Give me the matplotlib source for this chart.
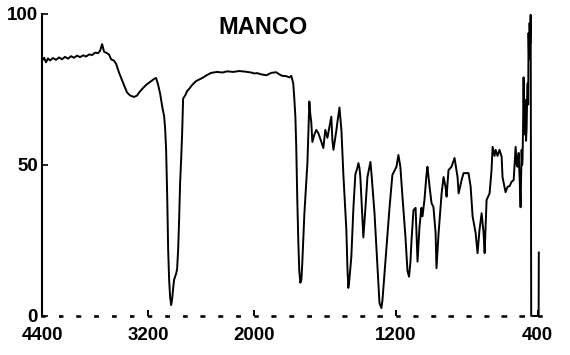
import numpy as np
import matplotlib
matplotlib.use("Agg")
import matplotlib.pyplot as plt

# IR spectrum, MANCO: wavenumber (cm-1) and transmittance (%)
wavenumber = [
    4400, 4377, 4355, 4332, 4310, 4276, 4242, 4208, 4174, 4140, 4106, 4072,
    4038, 4004, 3970, 3936, 3902, 3868, 3834, 3800, 3767, 3744, 3721, 3699,
    3665, 3642, 3620, 3586, 3563, 3529, 3495, 3461, 3439, 3405, 3360, 3326,
    3303, 3258, 3224, 3179, 3133, 3111, 3088, 3065, 3043, 3020, 3009, 2998,
    2986, 2975, 2964, 2953, 2941, 2930, 2919, 2908, 2885, 2874, 2862, 2851,
    2840, 2828, 2817, 2806, 2783, 2760, 2738, 2704, 2658, 2590, 2534, 2489,
    2421, 2364, 2308, 2240, 2172, 2104, 2036, 2002,
    1984, 1962, 1933, 1905, 1877, 1860, 1843, 1820, 1803, 1792, 1781, 1775,
    1769, 1764, 1758, 1752, 1747, 1741, 1735, 1730, 1718, 1701, 1690, 1685,
    1679, 1673, 1662, 1651, 1639, 1622, 1611, 1600, 1588, 1577, 1566, 1560,
    1554, 1537, 1532, 1520, 1509, 1498, 1487, 1481, 1475, 1470, 1464, 1453,
    1441, 1430, 1419, 1413, 1407, 1402, 1390, 1385, 1373, 1362, 1345, 1339,
    1322, 1305, 1294, 1283, 1277, 1266, 1254, 1237, 1221, 1198, 1187, 1176,
    1164, 1147, 1136, 1127, 1119, 1113, 1102, 1090, 1085, 1079, 1068, 1057,
    1051, 1040, 1028, 1023, 1011, 1000, 989, 977, 972, 960, 949, 943,
    932, 921, 915, 904, 887, 870, 853, 847, 830, 819, 791, 779,
    768, 751, 740, 729, 717, 706, 700, 689, 672, 661, 655, 644,
    638, 627, 616, 604, 599, 582, 570, 559, 548, 536, 531, 525,
    519, 514, 508, 502, 497, 491, 488, 486, 483, 480, 477, 474,
    471, 469, 466, 463, 460, 457, 454, 452, 449, 446, 443, 440,
    437, 395, 394,
]
transmittance = [
    84.5, 85.5, 84.0, 85.3, 84.6, 85.4, 84.8, 85.6, 85.0, 85.8, 85.2, 86.0,
    85.5, 86.2, 85.7, 86.3, 85.9, 86.6, 86.4, 87.2, 87.0, 87.8, 90.0, 87.5,
    87.0, 86.5, 85.0, 84.5, 83.5, 80.5, 78.0, 75.5, 74.0, 73.0, 72.5, 73.0,
    74.0, 75.5, 76.5, 77.5, 78.5, 78.8, 76.5, 73.5, 69.5, 66.0, 62.0, 55.0,
    40.0, 22.0, 12.0, 6.3, 3.6, 5.5, 9.0, 12.0, 14.0, 15.5, 22.0, 32.0,
    44.0, 52.0, 60.5, 72.0, 73.0, 74.5, 75.2, 76.5, 77.8, 78.8, 79.8, 80.5,
    80.8, 80.6, 81.0, 80.8, 81.1, 80.9, 80.6, 80.3,
    80.4, 80.0, 79.7, 80.5, 80.7, 80.0, 79.5, 79.4, 79.0, 79.5, 77.0, 72.0,
    66.0, 56.0, 38.0, 24.0, 15.0, 11.0, 12.0, 17.5, 34.0, 50.6, 71.0, 67.0,
    64.0, 57.6, 60.0, 61.6, 60.5, 57.6, 55.6, 61.6, 59.0, 62.6, 66.0, 58.3,
    55.0, 61.6, 64.0, 69.0, 61.6, 47.0, 35.0, 28.5, 16.0, 9.3, 12.0, 19.5,
    36.0, 47.0, 49.0, 50.6, 49.0, 46.0, 31.8, 26.0, 36.0, 46.0, 51.0, 47.0,
    34.0, 16.0, 4.3, 2.6, 5.3, 14.0, 23.0, 36.0, 46.7, 49.4, 53.3, 49.4,
    39.4, 26.0, 15.0, 13.0, 18.0, 25.0, 35.0, 35.8, 27.5, 18.0, 29.5, 35.8,
    33.0, 38.4, 47.0, 49.4, 42.8, 37.4, 36.0, 27.5, 15.8, 27.5, 36.0, 40.6,
    46.0, 42.8, 39.5, 48.3, 49.4, 52.3, 46.0, 40.6, 45.0, 47.3, 47.3, 42.8,
    33.0, 27.5, 20.8, 28.5, 34.0, 27.5, 20.8, 38.4, 40.6, 48.3, 56.0, 53.0,
    55.0, 53.0, 55.0, 52.7, 46.0, 41.0, 42.8, 43.0, 44.4, 45.0, 50.0, 56.0,
    50.0, 49.4, 54.0, 45.0, 36.0, 55.0, 50.0, 52.0, 62.0, 79.0, 64.0, 68.0,
    60.0, 71.5, 58.0, 62.0, 72.0, 77.0, 70.0, 93.7, 85.0, 97.0, 90.0, 99.7,
    0.0, 0.0, 21.0,
]

major_ticks = [4400, 3200, 2000, 1200, 400]
minor_ticks = list(range(4200, 2000, -200)) + list(range(1900, 400, -100))
y_ticks = [0, 50, 100]


# 2x expansion below 2000 cm-1
def fwd(w):
    w = np.asarray(w, dtype=float)
    return np.where(w >= 2000, w, 2 * w - 2000)


def inv(v):
    v = np.asarray(v, dtype=float)
    return np.where(v >= 2000, v, (v + 2000) / 2)


plt.rcParams['font.family'] = ['Liberation Sans', 'DejaVu Sans']

fig = plt.figure(figsize=(5.7, 3.55), dpi=100)
ax = fig.add_axes([0.0737, 0.110, 0.875, 0.8507])
ax.set_xscale('function', functions=(fwd, inv))

ax.plot(wavenumber, transmittance, color='black', lw=1.4, clip_on=False,
        zorder=3)

ax.set_xlim(4400, 383)
ax.set_ylim(0, 100)

ax.set_xticks(major_ticks)
ax.set_xticks(minor_ticks, minor=True)
ax.set_yticks(y_ticks)

for s in ['top', 'right']:
    ax.spines[s].set_visible(False)
ax.spines['left'].set_linewidth(1.5)
# dotted baseline like the scanned chart
ax.spines['bottom'].set_linewidth(1.8)
ax.spines['bottom'].set_linestyle((0, (0.8, 6.3)))

ax.tick_params(axis='x', which='major', direction='in', length=4.5, width=1.4,
               pad=8, labelsize=13.5, color='black')
ax.tick_params(axis='x', which='minor', direction='inout', length=1.8,
               width=1.8, color='black')
ax.tick_params(axis='y', direction='in', length=4.5, width=1.2, pad=3,
               labelsize=13.5)
for lab in ax.get_xticklabels() + ax.get_yticklabels():
    lab.set_fontweight('bold')

ax.text(0.443, 0.954, 'MANCO', transform=ax.transAxes, ha='center',
        va='center', fontsize=17, fontweight='bold')

fig.savefig('out.png', dpi=100)
